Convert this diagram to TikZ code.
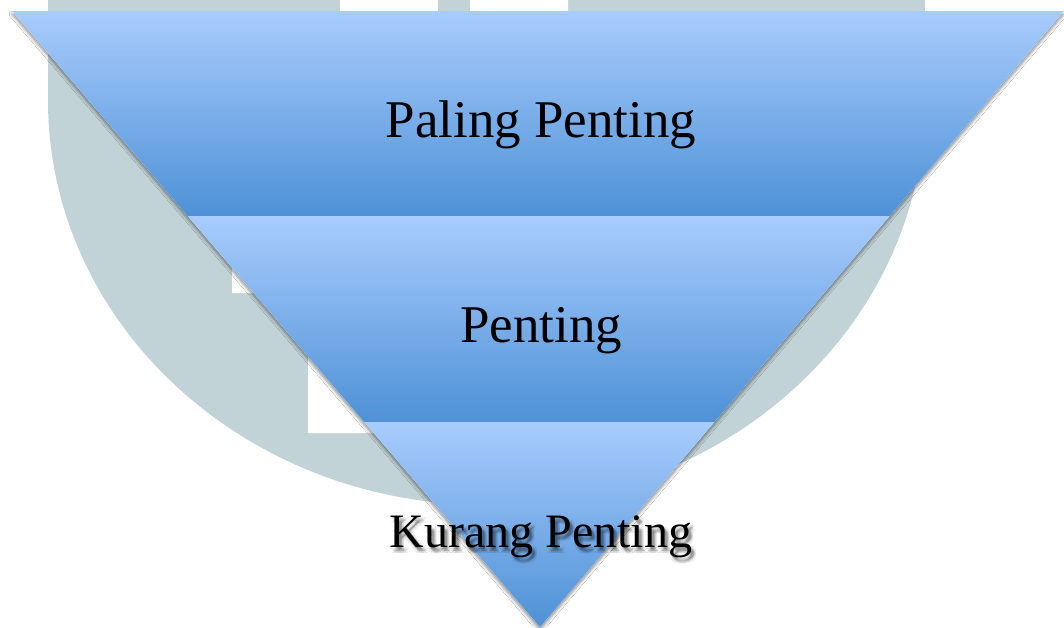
\documentclass[tikz,border=0pt]{standalone}
\usepackage{fontspec}
\setmainfont{Liberation Serif}
\usetikzlibrary{calc,shadows.blur}
\definecolor{markgray}{RGB}{194,211,216}
\definecolor{bandtop}{RGB}{168,204,253}
\definecolor{bandbot}{RGB}{78,145,214}
\begin{document}
\begin{tikzpicture}[x=1pt,y=-1pt,
  band/.style={top color=bandtop,bottom color=bandbot},
  bandtext/.style={font=\fontsize{53}{60}\selectfont,anchor=base,inner sep=0pt},
  smalltext/.style={font=\fontsize{48}{56}\selectfont,anchor=base,inner sep=0pt}]
\useasboundingbox (0,0) rectangle (1064,627);
\fill[white] (0,0) rectangle (1064,627);

% pale emblem in the background
\fill[markgray] (48,-5) rectangle (925,100);
\fill[markgray] (486.5,100) ellipse [x radius=438.5, y radius=405];
\fill[white] (340,-5) -- (568,-5) -- (568,11) -- (600,433) -- (308,433)
  -- (308,350) -- (270,293) -- (232,293) -- (232,260) -- (340,11) -- cycle;
\fill[markgray] (438,-5) rectangle (470,11);

% inverted pyramid
\coordinate (A) at (12,11);
\coordinate (B) at (1064,11);
\coordinate (C) at (540,627);
\coordinate (l1) at ($(A)!0.3328!(C)$);
\coordinate (r1) at ($(B)!0.3328!(C)$);
\coordinate (l2) at ($(A)!0.6672!(C)$);
\coordinate (r2) at ($(B)!0.6672!(C)$);

\fill[white, blur shadow={shadow xshift=0pt, shadow yshift=-3pt,
  shadow blur radius=3pt, shadow opacity=45}] (A) -- (B) -- (C) -- cycle;

\shade[band] (A) -- (B) -- (r1) -- (l1) -- cycle;
\shade[band] (l1) -- (r1) -- (r2) -- (l2) -- cycle;
\shade[band] (l2) -- (r2) -- (C) -- cycle;

% labels; the bottom one carries a soft drop shadow
\node[bandtext] (t1) at (541,137) {Paling Penting};
\node[bandtext] (t2) at (541,342) {Penting};
\foreach \dx/\dy [count=\i] in {0/0,1/0,-1/0,0/1,0/-1,2/2,-2/2,2/-2,-2/-2}
  \node[smalltext, text=black, opacity=0.07] (s\i) at (544+\dx,551+\dy) {Kurang Penting};
\node[smalltext] (t3) at (541,547) {Kurang Penting};
\end{tikzpicture}
\end{document}
